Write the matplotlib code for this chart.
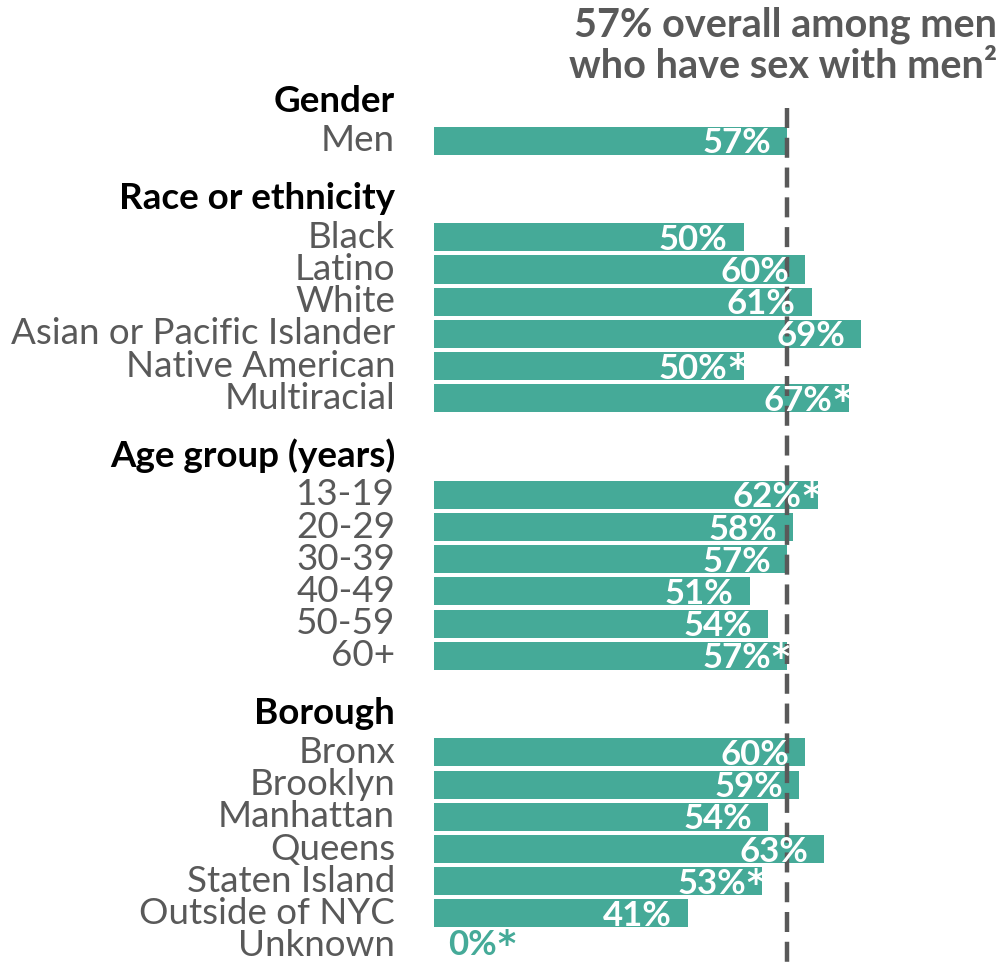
import matplotlib.pyplot as plt

plt.rcParams['font.family'] = ['Lato', 'DejaVu Sans']

# groups of the chart
groups = ['Gender', 'Race or ethnicity', 'Age group (years)', 'Borough']
gender_labels = ['Men']
gender_values = [57]
gender_flags = ['']
race_labels = ['Black', 'Latino', 'White', 'Asian or Pacific Islander', 'Native American', 'Multiracial']
race_values = [50, 60, 61, 69, 50, 67]
race_flags = ['', '', '', '', '*', '*']
age_labels = ['13-19', '20-29', '30-39', '40-49', '50-59', '60+']
age_values = [62, 58, 57, 51, 54, 57]
age_flags = ['*', '', '', '', '', '*']
borough_labels = ['Bronx', 'Brooklyn', 'Manhattan', 'Queens', 'Staten Island', 'Outside of NYC', 'Unknown']
borough_values = [60, 59, 54, 63, 53, 41, 0]
borough_flags = ['', '', '', '', '*', '', '*']
overall = 57

teal = '#45AA98'
gray = '#595959'

fig = plt.figure(figsize=(10.06, 9.65), dpi=100)
ax = fig.add_axes([0, 0, 1, 1])
ax.set_xlim(-70.1, 92.4)
ax.set_ylim(25.6, -4.37)
ax.axis('off')

all_groups = [
    (gender_labels, gender_values, gender_flags),
    (race_labels, race_values, race_flags),
    (age_labels, age_values, age_flags),
    (borough_labels, borough_values, borough_flags),
]

pos = 0
for name, (labels, values, flags) in zip(groups, all_groups):
    ax.annotate(name, (0, pos - 1.22), xytext=(-28, 0), textcoords='offset points',
                ha='right', va='center', fontsize=26.5, fontweight='bold', color='black')
    for lab, val, flag in zip(labels, values, flags):
        ax.barh(pos, val, height=0.87, color=teal, zorder=1)
        ax.annotate(lab, (0, pos), xytext=(-28, 0), textcoords='offset points',
                    ha='right', va='center', fontsize=26.5, color=gray)
        if val == 0:
            c, off, dy = teal, 45, -6.5
        else:
            c, off, dy = 'white', -11.5, -9
        # number and asterisk share a baseline
        ax.annotate(f'{val}%', (val, pos), xytext=(off, dy), textcoords='offset points',
                    ha='right', va='baseline', fontsize=25, fontweight='bold', color=c, zorder=3)
        if flag:
            ax.annotate(flag, (val, pos), xytext=(off + 0.5, dy), textcoords='offset points',
                        ha='left', va='baseline', fontsize=25, fontweight='bold', color=c,
                        family='DejaVu Sans', zorder=3)
        pos += 1
    pos += 2

ax.plot([overall, overall], [-1.02, 25.6], color=gray, lw=3.2, ls=(0, (4.5, 2.2)), zorder=2)

fig.text(0.991, 0.993, '57% overall among men\nwho have sex with men\u00b2',
         ha='right', va='top', fontsize=28.5, fontweight='bold', color=gray, linespacing=1.12)

fig.savefig('out.png', dpi=100)
